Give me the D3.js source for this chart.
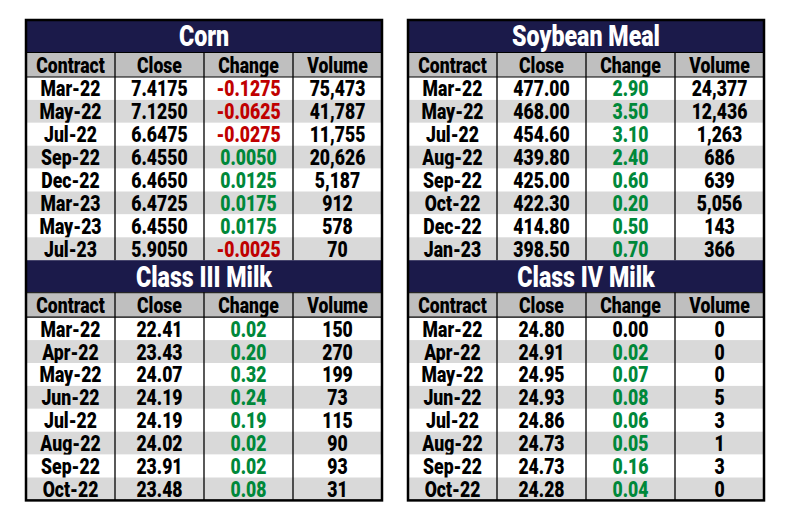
<!DOCTYPE html>
<html><head><meta charset="utf-8">
<script src="https://cdn.jsdelivr.net/npm/d3@7"></script>
<style>
html,body{margin:0;padding:0;background:#fff;}
svg text{font-family:Roboto,"Noto Sans","DejaVu Sans",sans-serif;font-weight:900;}
</style></head>
<body>
<svg id="c" width="790" height="524"></svg>
<script>
const columns = ["Contract","Close","Change","Volume"];

const cornTitle = "Corn";
const cornContracts = ["Mar-22","May-22","Jul-22","Sep-22","Dec-22","Mar-23","May-23","Jul-23"];
const cornClose = ["7.4175","7.1250","6.6475","6.4550","6.4650","6.4725","6.4550","5.9050"];
const cornChange = ["-0.1275","-0.0625","-0.0275","0.0050","0.0125","0.0175","0.0175","-0.0025"];
const cornVolume = ["75,473","41,787","11,755","20,626","5,187","912","578","70"];

const milk3Title = "Class III Milk";
const milk3Contracts = ["Mar-22","Apr-22","May-22","Jun-22","Jul-22","Aug-22","Sep-22","Oct-22"];
const milk3Close = ["22.41","23.43","24.07","24.19","24.19","24.02","23.91","23.48"];
const milk3Change = ["0.02","0.20","0.32","0.24","0.19","0.02","0.02","0.08"];
const milk3Volume = ["150","270","199","73","115","90","93","31"];

const soyTitle = "Soybean Meal";
const soyContracts = ["Mar-22","May-22","Jul-22","Aug-22","Sep-22","Oct-22","Dec-22","Jan-23"];
const soyClose = ["477.00","468.00","454.60","439.80","425.00","422.30","414.80","398.50"];
const soyChange = ["2.90","3.50","3.10","2.40","0.60","0.20","0.50","0.70"];
const soyVolume = ["24,377","12,436","1,263","686","639","5,056","143","366"];

const milk4Title = "Class IV Milk";
const milk4Contracts = ["Mar-22","Apr-22","May-22","Jun-22","Jul-22","Aug-22","Sep-22","Oct-22"];
const milk4Close = ["24.80","24.91","24.95","24.93","24.86","24.73","24.73","24.28"];
const milk4Change = ["0.00","0.02","0.07","0.08","0.06","0.05","0.16","0.04"];
const milk4Volume = ["0","0","0","5","3","1","3","0"];

function makeRows(c, cl, ch, v){ return c.map((d,i)=>({cells:[d,cl[i],ch[i],v[i]], change:+ch[i]})); }

const tables = [
  {title:cornTitle, rows:makeRows(cornContracts,cornClose,cornChange,cornVolume), side:0, pos:0},
  {title:milk3Title, rows:makeRows(milk3Contracts,milk3Close,milk3Change,milk3Volume), side:0, pos:1},
  {title:soyTitle, rows:makeRows(soyContracts,soyClose,soyChange,soyVolume), side:1, pos:0},
  {title:milk4Title, rows:makeRows(milk4Contracts,milk4Close,milk4Change,milk4Volume), side:1, pos:1}
];

const NAVY="#1b1a4a", HEAD="#bfbfbf", STRIPE="#d9d9d9", RED="#c00000", GREEN="#00883a";
const SX = 0.8;
const svg = d3.select("#c");

const sides = [[26,382],[408,764]];
const top0 = 20, titleH = 32, headH = 25, rowH = 22.9;
const blockH = titleH + headH + rowH*8;

// condense text horizontally while keeping real x/y positions
function condense(sel){
  sel.each(function(){
    const w = this.getComputedTextLength();
    d3.select(this).attr("textLength", w*SX).attr("lengthAdjust","spacingAndGlyphs");
  });
}

tables.forEach(t=>{
  const [x0,x1] = sides[t.side];
  const y0 = top0 + t.pos*blockH;
  const x = d3.scaleBand().domain(columns).range([x0,x1]);
  const yr = d3.scaleBand().domain(d3.range(t.rows.length)).range([y0+titleH+headH, y0+blockH]);
  const g = svg.append("g");
  // title
  g.append("rect").attr("x",x0).attr("y",y0).attr("width",x1-x0).attr("height",titleH).attr("fill",NAVY);
  g.append("text").attr("x",(x0+x1)/2).attr("y",y0+titleH/2+10.3).attr("text-anchor","middle")
    .attr("font-size",29).attr("fill","#fff").text(t.title).call(condense);
  // header
  const hy = y0+titleH;
  g.append("rect").attr("x",x0).attr("y",hy).attr("width",x1-x0).attr("height",headH).attr("fill",HEAD);
  g.selectAll("text.h").data(columns).join("text").attr("class","h")
    .attr("x",d=>x(d)+x.bandwidth()/2).attr("y",hy+headH/2+8).attr("text-anchor","middle")
    .attr("font-size",22).attr("fill","#000").text(d=>d).call(condense);
  // rows
  const rg = g.selectAll("g.r").data(t.rows).join("g").attr("class","r");
  rg.append("rect").attr("x",x0).attr("y",(d,i)=>yr(i)).attr("width",x1-x0).attr("height",yr.bandwidth())
    .attr("fill",(d,i)=>i%2? STRIPE : "#fff");
  rg.each(function(d,i){
    d3.select(this).selectAll("text").data(d.cells).join("text")
      .attr("x",(c,j)=>x(columns[j])+x.bandwidth()/2)
      .attr("y",yr(i)+yr.bandwidth()/2+8)
      .attr("text-anchor","middle").attr("font-size",22)
      .attr("fill",(c,j)=> j===2 ? (d.change<0?RED:(d.change>0?GREEN:"#000")) : "#000")
      .text(c=>c).call(condense);
  });
  // lines
  g.append("line").attr("x1",x0).attr("x2",x1).attr("y1",hy+0.5).attr("y2",hy+0.5).attr("stroke","#000").attr("stroke-width",1);
  g.append("line").attr("x1",x0).attr("x2",x1).attr("y1",hy+headH).attr("y2",hy+headH).attr("stroke","#000").attr("stroke-width",1.2);
  g.selectAll("line.v").data(columns.slice(1)).join("line").attr("class","v")
    .attr("x1",d=>x(d)).attr("x2",d=>x(d)).attr("y1",hy).attr("y2",y0+blockH)
    .attr("stroke","#000").attr("stroke-width",1.3);
});

// outer borders
sides.forEach(([x0,x1])=>{
  svg.append("rect").attr("x",x0).attr("y",top0).attr("width",x1-x0).attr("height",blockH*2)
    .attr("fill","none").attr("stroke","#000").attr("stroke-width",2.5);
});
</script>
</body></html>
